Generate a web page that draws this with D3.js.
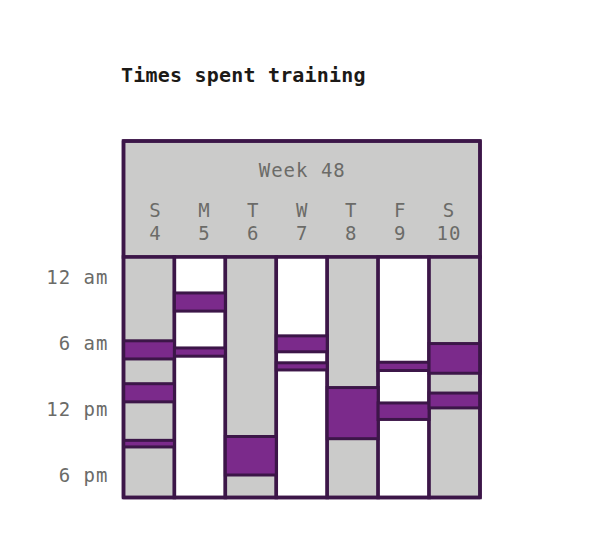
<!DOCTYPE html>
<html lang="en">
<head>
<meta charset="UTF-8">
<title>Times spent training</title>
<script src="https://d3js.org/d3.v7.min.js"></script>
<style>
  body { margin: 0; background: #fff; }
  svg text { font-family: "DejaVu Sans Mono", monospace; }
</style>
</head>
<body>
<div id="chart"></div>
<script>
// Data
const weekLabel = "Week 48";
const dayLetters = ["S", "M", "T", "W", "T", "F", "S"];
const dayNumbers = [4, 5, 6, 7, 8, 9, 10];
const tickHours = [0, 6, 12, 18];
const tickLabels = ["12 am", "6 am", "12 pm", "6 pm"];

// training sessions: day index, start hour, end hour
const sessionDay   = [0, 0, 0, 1, 1, 2, 3, 3, 4, 5, 5, 6, 6];
const sessionStart = [5.8, 9.7, 14.85, 1.45, 6.45, 14.5, 5.35, 7.8, 10.05, 7.75, 11.45, 6.05, 10.55];
const sessionEnd   = [7.45, 11.35, 15.45, 3.1, 7.2, 18.0, 6.8, 8.45, 14.7, 8.5, 12.95, 8.75, 11.9];

const width = 600, height = 560;
const left = 123.5, right = 480;
const headerTop = 141, bodyTop = 257, bodyBottom = 497.5;

const dark = "#3c1648", purple = "#7b2a8b", gray = "#cbcbca", textGray = "#6b6b68";

const svg = d3.select("#chart").append("svg")
  .attr("width", width)
  .attr("height", height);

svg.append("text")
  .attr("x", 121)
  .attr("y", 75)
  .attr("dy", "0.35em")
  .attr("font-size", 20)
  .attr("font-weight", "bold")
  .attr("letter-spacing", 0.2)
  .attr("fill", "#1c1a17")
  .text("Times spent training");

const x = d3.scaleBand()
  .domain(d3.range(dayLetters.length))
  .range([left, right]);

// header labels sit on a slightly narrower band
const xLabel = d3.scaleBand()
  .domain(d3.range(dayLetters.length))
  .range([left + 7, right - 7]);

const y = d3.scaleLinear()
  .domain([0, 18])
  .range([277, 475]);

// header
svg.append("rect")
  .attr("x", left).attr("y", headerTop)
  .attr("width", right - left).attr("height", bodyTop - headerTop)
  .attr("fill", gray).attr("stroke", dark).attr("stroke-width", 3.5);

svg.append("text")
  .attr("x", (left + right) / 2 + 0.5).attr("y", 170)
  .attr("dy", "0.35em").attr("text-anchor", "middle")
  .attr("font-size", 19).attr("letter-spacing", 1).attr("fill", textGray)
  .text(weekLabel);

const head = svg.append("g");
head.selectAll(".letter")
  .data(dayLetters)
  .enter().append("text")
  .attr("x", (d, i) => xLabel(i) + xLabel.bandwidth() / 2)
  .attr("y", 210)
  .attr("dy", "0.35em").attr("text-anchor", "middle")
  .attr("font-size", 19).attr("fill", textGray)
  .text(d => d);

head.selectAll(".num")
  .data(dayNumbers)
  .enter().append("text")
  .attr("x", (d, i) => xLabel(i) + xLabel.bandwidth() / 2 + 0.5)
  .attr("y", 233.5)
  .attr("dy", "0.35em").attr("text-anchor", "middle")
  .attr("font-size", 19).attr("letter-spacing", 1).attr("fill", textGray)
  .text(d => d);

// day columns
svg.selectAll(".col")
  .data(dayLetters)
  .enter().append("rect")
  .attr("x", (d, i) => x(i))
  .attr("y", bodyTop)
  .attr("width", x.bandwidth())
  .attr("height", bodyBottom - bodyTop)
  .attr("fill", (d, i) => i % 2 === 0 ? gray : "#fff")
  .attr("stroke", dark).attr("stroke-width", 3.5);

// sessions
svg.selectAll(".session")
  .data(sessionDay)
  .enter().append("rect")
  .attr("x", d => x(d))
  .attr("y", (d, i) => y(sessionStart[i]))
  .attr("width", x.bandwidth())
  .attr("height", (d, i) => y(sessionEnd[i]) - y(sessionStart[i]))
  .attr("fill", purple)
  .attr("stroke", dark).attr("stroke-width", 3);

// frame
svg.append("rect")
  .attr("x", left).attr("y", headerTop)
  .attr("width", right - left).attr("height", bodyBottom - headerTop)
  .attr("fill", "none").attr("stroke", dark).attr("stroke-width", 3.5)
  .attr("stroke-linejoin", "round");

// hour axis
const axis = svg.append("g")
  .attr("transform", `translate(${left},0)`)
  .call(d3.axisLeft(y).tickValues(tickHours)
    .tickFormat((d, i) => tickLabels[i]).tickSize(0).tickPadding(15));
axis.select(".domain").remove();
axis.selectAll("text")
  .attr("font-size", 19)
  .attr("letter-spacing", 1)
  .attr("font-family", "DejaVu Sans Mono, monospace")
  .attr("fill", textGray);
</script>
</body>
</html>
